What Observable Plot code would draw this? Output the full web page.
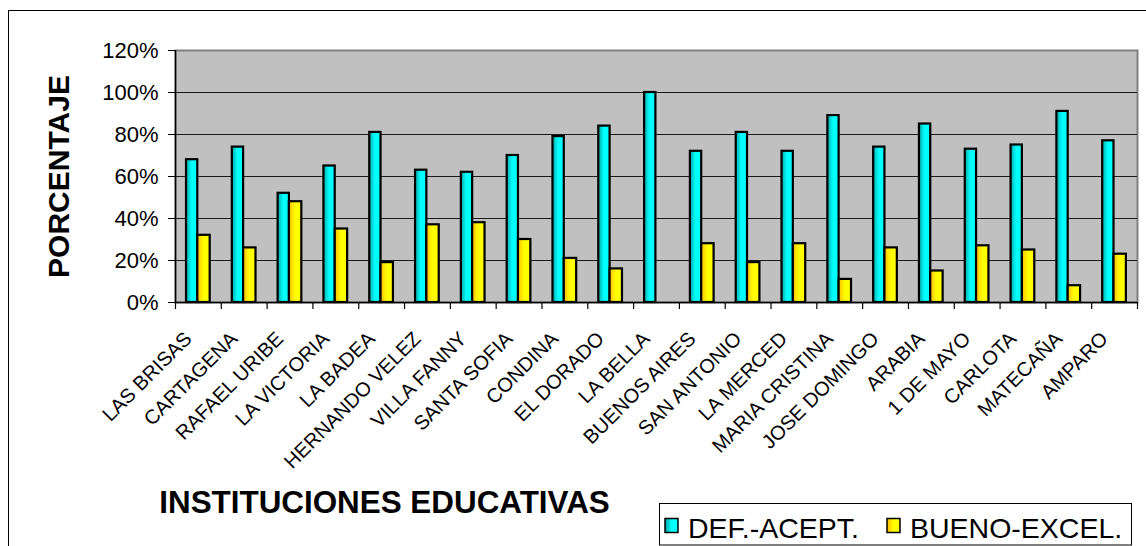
<!DOCTYPE html>
<html>
<head>
<meta charset="utf-8">
<script src="https://cdn.jsdelivr.net/npm/d3@7"></script>
<script src="https://cdn.jsdelivr.net/npm/@observablehq/plot@0.6"></script>
<style>
  html, body { margin: 0; padding: 0; background: #fff; }
  #wrap { position: relative; width: 1146px; height: 546px; overflow: hidden; font-family: "Liberation Sans", Arial, sans-serif; }
  #wrap svg.chart { position: absolute; left: 0; top: 0; font-family: "Liberation Sans", Arial, sans-serif; }
  #wrap svg.chart g[aria-label="x-axis tick label"] { font-size: 20px !important; }
  #wrap svg.chart g[aria-label="y-axis tick label"] { font-size: 22px !important; }
  #frame { position: absolute; left: 8px; top: 10px; width: 1300px; height: 700px; border-left: 1.5px solid #000; border-top: 1.5px solid #000; pointer-events: none; }
  #legend { position: absolute; left: 0; top: 0; }
</style>
</head>
<body>
<div id="wrap"><div id="frame"></div></div>
<script>
// ---- data ----
const institutions = ["LAS BRISAS","CARTAGENA","RAFAEL URIBE","LA VICTORIA","LA BADEA","HERNANDO VELEZ","VILLA FANNY","SANTA SOFIA","CONDINA","EL DORADO","LA BELLA","BUENOS AIRES","SAN ANTONIO","LA MERCED","MARIA CRISTINA","JOSE DOMINGO","ARABIA","1 DE MAYO","CARLOTA","MATECAÑA","AMPARO"];
const defAcept   = [68,74,52,65,81,63,62,70,79,84,100,72,81,72,89,74,85,73,75,91,77];
const buenoExcel = [32,26,48,35,19,37,38,30,21,16,0,28,19,28,11,26,15,27,25,8,23];
const seriesNames = ["DEF.-ACEPT.","BUENO-EXCEL."];
const yTicks = [0,20,40,60,80,100,120];
const yTitle = "PORCENTAJE";
const xTitle = "INSTITUCIONES EDUCATIVAS";

// ---- layout ----
const W = 1146, H = 546;
const mL = 175, mR = 9, mT = 50, mB = 244;
const bw = (W - mL - mR) / institutions.length;

const rows = institutions.map((name, i) => ({name, def: defAcept[i], bueno: buenoExcel[i]}));

const chart = Plot.plot({
  width: W, height: H,
  marginLeft: mL, marginRight: mR, marginTop: mT, marginBottom: mB,
  style: {background: "transparent", fontFamily: "'Liberation Sans', Arial, sans-serif"},
  x: {domain: institutions, padding: 0, round: false},
  y: {domain: [0, 120]},
  marks: [
    Plot.frame({fill: "#c0c0c0", stroke: "#808080", strokeWidth: 2}),
    Plot.ruleY(yTicks.filter(t => t > 0 && t < 120), {stroke: "#1a1a1a", strokeWidth: 1}),
    Plot.barY(rows, {x: "name", y: "def", fill: "url(#gCyan)", stroke: "#000", strokeWidth: 2.2, insetLeft: 11, insetRight: bw - 22.3}),
    Plot.barY(rows.filter(d => d.bueno > 0), {x: "name", y: "bueno", fill: "url(#gYellow)", stroke: "#000", strokeWidth: 2.2, insetLeft: 22.3, insetRight: bw - 34.7}),
    Plot.ruleY([0], {stroke: "#000", strokeWidth: 1.5}),
    Plot.ruleX([institutions[0]], {y1: 0, y2: 120, dx: -bw / 2, stroke: "#000", strokeWidth: 1.5}),
    Plot.ruleX(institutions, {y1: 0, y2: 0, insetBottom: -7, dx: -bw / 2, stroke: "#000", strokeWidth: 1.2}),
    Plot.ruleX([institutions[institutions.length - 1]], {y1: 0, y2: 0, insetBottom: -7, dx: bw / 2, stroke: "#000", strokeWidth: 1.2}),
    Plot.axisY(yTicks, {tickSize: 7, tickPadding: 10, tickFormat: d => d + "%", fontSize: 22, label: null}),
    Plot.axisX({tickSize: 0, tickPadding: 33, tickRotate: -45, fontSize: 20, label: null, dx: -10}),
    Plot.text([yTitle], {frameAnchor: "left", rotate: -90, dx: -116, fontSize: 30, fontWeight: "bold", textAnchor: "middle", lineAnchor: "middle"}),
    Plot.text([xTitle], {frameAnchor: "bottom-left", dx: 209, dy: 200, fontSize: 31.4, fontWeight: "bold", textAnchor: "middle", lineAnchor: "middle"})
  ]
});
chart.classList.add("chart");

// gradients for bar fills
d3.select(chart).insert("defs", ":first-child").html(`
  <linearGradient id="gCyan" x1="0" x2="1" y1="0" y2="0">
    <stop offset="0" stop-color="#00a0a0"/>
    <stop offset="0.3" stop-color="#00dede"/>
    <stop offset="0.5" stop-color="#00ffff"/>
    <stop offset="1" stop-color="#00ffff"/>
  </linearGradient>
  <linearGradient id="gYellow" x1="0" x2="1" y1="0" y2="0">
    <stop offset="0" stop-color="#ffb800"/>
    <stop offset="0.35" stop-color="#ffee00"/>
    <stop offset="0.55" stop-color="#ffff00"/>
    <stop offset="0.85" stop-color="#ffff00"/>
    <stop offset="1" stop-color="#ffd500"/>
  </linearGradient>`);

const wrap = document.getElementById("wrap");
wrap.insertBefore(chart, wrap.firstChild);

// legend
const legendColors = ["url(#lgCyan)", "url(#lgYellow)"];
const lg = d3.select(wrap).append("svg").attr("id", "legend").attr("width", W).attr("height", H);
lg.append("defs").html(`
  <linearGradient id="lgCyan" x1="0" x2="1"><stop offset="0" stop-color="#00a0a0"/><stop offset="0.5" stop-color="#00ffff"/><stop offset="1" stop-color="#00ffff"/></linearGradient>
  <linearGradient id="lgYellow" x1="0" x2="1"><stop offset="0" stop-color="#ffb800"/><stop offset="0.5" stop-color="#ffff00"/><stop offset="1" stop-color="#ffff00"/></linearGradient>`);
lg.append("rect").attr("x", 659.5).attr("y", 503.5).attr("width", 472).attr("height", 41.5)
  .attr("fill", "#fff").attr("stroke", "#000").attr("stroke-width", 1);
const legendX = [664, 886];
seriesNames.forEach((s, i) => {
  lg.append("rect").attr("x", legendX[i] + 1).attr("y", 518.5).attr("width", 13).attr("height", 14)
    .attr("fill", legendColors[i]).attr("stroke", "#000").attr("stroke-width", 1.5);
  lg.append("text").attr("x", legendX[i] + 24).attr("y", 538).attr("font-size", 28.5)
    .attr("font-family", "'Liberation Sans', Arial, sans-serif").attr("fill", "#000").text(s);
});
</script>
</body>
</html>
